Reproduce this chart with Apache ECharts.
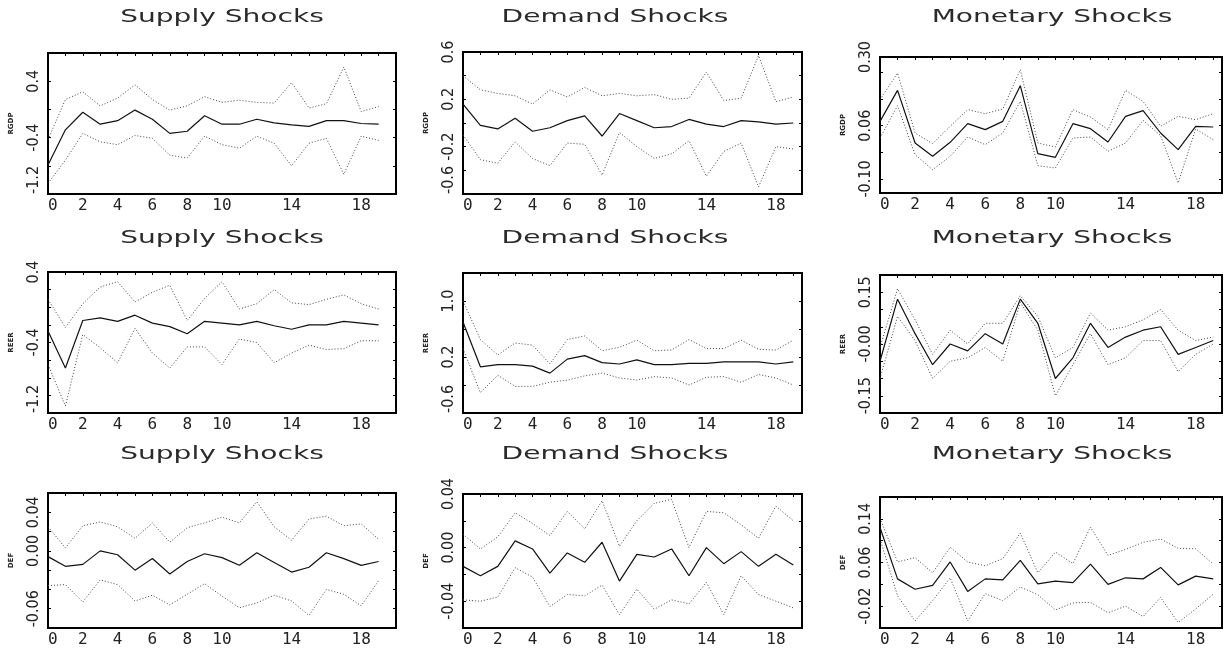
<!DOCTYPE html>
<html><head><meta charset="utf-8">
<script src="https://cdn.jsdelivr.net/npm/echarts@6/dist/echarts.min.js"></script>
<style>html,body{margin:0;padding:0;background:#fff}#c{width:1225px;height:648px}</style>
</head><body><div id="c"></div>
<script>
// ---------------- data ----------------
const horizon = [0,1,2,3,4,5,6,7,8,9,10,11,12,13,14,15,16,17,18,19];
const xLabelValues = [0,2,4,6,8,10,14,18];
const shockTitles = ['Supply Shocks','Demand Shocks','Monetary Shocks'];
const variableNames = ['RGDP','REER','DEF'];

const supplyRgdpMid = [-0.79,-0.29,-0.04,-0.21,-0.16,-0.01,-0.14,-0.34,-0.31,-0.09,-0.21,-0.21,-0.14,-0.19,-0.22,-0.24,-0.16,-0.16,-0.20,-0.21];
const supplyRgdpUp  = [-0.43,0.14,0.25,0.05,0.16,0.35,0.14,-0.01,0.05,0.18,0.10,0.13,0.10,0.09,0.38,0.02,0.08,0.60,-0.03,0.04];
const supplyRgdpLo  = [-1.05,-0.72,-0.34,-0.46,-0.50,-0.37,-0.41,-0.65,-0.69,-0.38,-0.50,-0.55,-0.38,-0.48,-0.80,-0.48,-0.41,-0.92,-0.38,-0.44];

const demandRgdpMid = [0.16,-0.02,-0.05,0.04,-0.07,-0.04,0.02,0.06,-0.11,0.08,0.02,-0.04,-0.03,0.03,-0.01,-0.03,0.02,0.01,-0.01,0.00];
const demandRgdpUp  = [0.40,0.28,0.25,0.23,0.16,0.28,0.22,0.30,0.23,0.25,0.23,0.24,0.20,0.21,0.43,0.19,0.21,0.57,0.18,0.22];
const demandRgdpLo  = [-0.10,-0.31,-0.34,-0.16,-0.30,-0.36,-0.17,-0.18,-0.44,-0.08,-0.20,-0.30,-0.26,-0.15,-0.45,-0.24,-0.17,-0.54,-0.20,-0.22];

const monetaryRgdpMid = [0.073,0.166,0.008,-0.032,0.010,0.066,0.048,0.073,0.180,-0.024,-0.035,0.066,0.051,0.011,0.088,0.105,0.038,-0.012,0.058,0.056];
const monetaryRgdpUp  = [0.138,0.218,0.038,0.006,0.058,0.108,0.096,0.110,0.228,0.008,-0.004,0.108,0.086,0.048,0.166,0.133,0.058,0.088,0.078,0.096];
const monetaryRgdpLo  = [0.023,0.120,-0.027,-0.072,-0.032,0.026,0.003,0.038,0.133,-0.060,-0.067,0.023,0.026,-0.017,0.008,0.076,0.030,-0.112,0.050,0.018];

const supplyReerMid = [-0.27,-0.69,-0.15,-0.12,-0.16,-0.09,-0.18,-0.22,-0.30,-0.16,-0.18,-0.20,-0.16,-0.21,-0.25,-0.20,-0.20,-0.16,-0.18,-0.20];
const supplyReerUp  = [0.09,-0.23,0.04,0.23,0.29,0.06,0.17,0.25,-0.15,0.10,0.29,-0.02,0.04,0.20,0.05,0.03,0.09,0.14,0.04,-0.02];
const supplyReerLo  = [-0.65,-1.12,-0.31,-0.46,-0.63,-0.24,-0.52,-0.69,-0.45,-0.45,-0.65,-0.36,-0.40,-0.63,-0.52,-0.43,-0.48,-0.47,-0.38,-0.38];

const demandReerMid = [0.70,0.06,0.09,0.09,0.07,-0.03,0.17,0.22,0.12,0.10,0.16,0.09,0.09,0.11,0.11,0.13,0.13,0.13,0.10,0.13];
const demandReerUp  = [1.00,0.45,0.23,0.40,0.37,0.10,0.45,0.50,0.29,0.34,0.44,0.29,0.30,0.45,0.32,0.32,0.44,0.31,0.30,0.44];
const demandReerLo  = [0.32,-0.31,-0.06,-0.22,-0.22,-0.16,-0.13,-0.07,-0.03,-0.10,-0.13,-0.08,-0.10,-0.20,-0.09,-0.08,-0.16,-0.05,-0.10,-0.20];

const monetaryReerMid = [-0.05,0.13,0.03,-0.06,0.00,-0.02,0.03,0.00,0.13,0.06,-0.10,-0.04,0.06,-0.01,0.02,0.04,0.05,-0.03,-0.01,0.01];
const monetaryReerUp  = [-0.01,0.16,0.07,-0.03,0.04,0.00,0.06,0.06,0.14,0.08,-0.04,-0.01,0.09,0.04,0.05,0.07,0.10,0.04,0.01,0.02];
const monetaryReerLo  = [-0.10,0.08,0.01,-0.10,-0.05,-0.04,-0.01,-0.05,0.12,0.04,-0.15,-0.06,0.03,-0.06,-0.04,0.01,0.01,-0.08,-0.03,0.00];

const supplyDefMid = [-0.006,-0.016,-0.014,0.000,-0.004,-0.020,-0.008,-0.024,-0.011,-0.003,-0.007,-0.015,-0.002,-0.012,-0.022,-0.017,-0.002,-0.008,-0.015,-0.011];
const supplyDefUp  = [0.025,0.003,0.026,0.030,0.025,0.013,0.029,0.009,0.024,0.029,0.035,0.029,0.051,0.025,0.011,0.033,0.036,0.026,0.028,0.012];
const supplyDefLo  = [-0.036,-0.035,-0.053,-0.030,-0.035,-0.052,-0.046,-0.056,-0.045,-0.034,-0.047,-0.059,-0.054,-0.046,-0.052,-0.067,-0.040,-0.045,-0.057,-0.031];

const demandDefMid = [-0.014,-0.021,-0.014,0.005,-0.001,-0.019,-0.004,-0.011,0.004,-0.025,-0.005,-0.007,-0.001,-0.021,0.000,-0.012,-0.003,-0.014,-0.005,-0.013];
const demandDefUp  = [0.010,-0.001,0.008,0.026,0.018,0.009,0.027,0.014,0.035,0.001,0.020,0.033,0.036,0.000,0.027,0.026,0.017,0.007,0.031,0.020];
const demandDefLo  = [-0.039,-0.040,-0.037,-0.015,-0.022,-0.044,-0.035,-0.036,-0.028,-0.050,-0.031,-0.046,-0.039,-0.042,-0.026,-0.050,-0.021,-0.035,-0.040,-0.045];

const monetaryDefMid = [0.124,0.030,0.011,0.018,0.061,0.007,0.030,0.028,0.064,0.021,0.026,0.023,0.057,0.020,0.032,0.030,0.051,0.019,0.035,0.030];
const monetaryDefUp  = [0.141,0.061,0.069,0.041,0.088,0.061,0.054,0.067,0.114,0.041,0.079,0.058,0.125,0.073,0.084,0.097,0.103,0.086,0.085,0.057];
const monetaryDefLo  = [0.103,-0.001,-0.047,-0.010,0.032,-0.047,0.003,-0.010,0.015,0.001,-0.027,-0.014,-0.013,-0.032,-0.020,-0.039,-0.004,-0.050,-0.025,0.002];

// axis ranges, tick values and tick labels (rows: RGDP, REER, DEF; columns: supply, demand, monetary)
const yRanges = [
  [[-1.2,0.8],[-0.6,0.6],[-0.142,0.266]],
  [[-1.2,0.4],[-0.6,1.4],[-0.2,0.2]],
  [[-0.08,0.06],[-0.06,0.04],[-0.06,0.18]]
];
const yTickValues = [
  [[-0.8,-0.4,0,0.4],[-0.4,-0.2,0,0.2,0.4],[-0.10,-0.02,0.06,0.14,0.22]],
  [[-1.0,-0.8,-0.6,-0.4,-0.2,0,0.2],[-0.2,0.2,0.6,1.0],[-0.15,-0.1,-0.05,0,0.05,0.1,0.15]],
  [[-0.06,-0.04,-0.02,0,0.02,0.04],[-0.04,-0.02,0,0.02],[-0.02,0.02,0.06,0.10,0.14]]
];
const yLabelValues = [
  [[-1.2,-0.4,0.4],[-0.6,-0.2,0.2,0.6],[-0.10,0.06,0.18,0.30]],
  [[-1.2,-0.4,0.4],[-0.6,0.2,1.0],[-0.15,0,0.15]],
  [[-0.06,0,0.04],[-0.04,0,0.04],[-0.02,0.06,0.14]]
];
const yLabelTexts = [
  [['-1.2','-0.4','0.4'],['-0.6','-0.2','0.2','0.6'],['-0.10','0.06','0.18','0.30']],
  [['-1.2','-0.4','0.4'],['-0.6','0.2','1.0'],['-0.15','-0.00','0.15']],
  [['-0.06','0.00','0.04'],['-0.04','0.00','0.04'],['-0.02','0.06','0.14']]
];
const xMaxByColumn = [20, 19.5, 19.5];

const seriesData = [
  [[supplyRgdpMid,supplyRgdpUp,supplyRgdpLo],[demandRgdpMid,demandRgdpUp,demandRgdpLo],[monetaryRgdpMid,monetaryRgdpUp,monetaryRgdpLo]],
  [[supplyReerMid,supplyReerUp,supplyReerLo],[demandReerMid,demandReerUp,demandReerLo],[monetaryReerMid,monetaryReerUp,monetaryReerLo]],
  [[supplyDefMid,supplyDefUp,supplyDefLo],[demandDefMid,demandDefUp,demandDefLo],[monetaryDefMid,monetaryDefUp,monetaryDefLo]]
];

// ---------------- layout ----------------
const colLeft = [48, 463, 880];
const colRight = [396, 802, 1222];
const rowTop = [[53,52,57],[272,273,275],[493,494,497]];
const rowBottom = [[194,194,193],[413,413,413],[632,633,632]];
const titleY = [18, 239, 455];
const titleX = [222, 615, 1052];

const grids = [], xAxes = [], yAxes = [], series = [], graphics = [];
const yLabelFont = "'Liberation Sans Narrow','DejaVu Sans Condensed',sans-serif";
const xLabelFont = "'DejaVu Sans Mono',monospace";
const tickStyle = {color: '#000', width: 1};

for (let r = 0; r < 3; r++) {
  for (let c = 0; c < 3; c++) {
    const i = grids.length;
    const [yMin, yMax] = yRanges[r][c];
    grids.push({
      left: colLeft[c], top: rowTop[r][c],
      width: colRight[c] - colLeft[c], height: rowBottom[r][c] - rowTop[r][c],
      show: true, borderColor: '#000', borderWidth: 2, backgroundColor: 'transparent'
    });
    xAxes.push({
      gridIndex: i, type: 'value', min: 0, max: xMaxByColumn[c], position: 'bottom',
      axisLine: {show: false, onZero: false}, axisTick: {show: false}, splitLine: {show: false},
      axisLabel: {customValues: xLabelValues, formatter: v => String(v), fontFamily: xLabelFont,
        fontSize: 16, color: '#222', margin: 4, alignMinLabel: 'left', showMinLabel: true, showMaxLabel: true}
    });
    xAxes.push({
      gridIndex: i, type: 'value', min: 0, max: xMaxByColumn[c], interval: 1, position: 'top',
      axisLine: {show: false, onZero: false}, splitLine: {show: false}, axisLabel: {show: false},
      axisTick: {show: true, inside: true, length: 3, lineStyle: tickStyle}
    });
    const labVals = yLabelValues[r][c].map(v => Math.max(yMin, Math.min(yMax, v)));
    const labTexts = yLabelTexts[r][c];
    yAxes.push({
      gridIndex: i, type: 'value', min: yMin, max: yMax, position: 'left',
      name: variableNames[r], nameLocation: 'middle', nameGap: 33,
      nameTextStyle: {fontSize: 7, fontFamily: 'DejaVu Sans', fontWeight: 'bold', color: '#222'},
      axisLine: {show: false, onZero: false}, splitLine: {show: false},
      axisTick: {show: true, inside: true, length: 3, customValues: yTickValues[r][c], lineStyle: tickStyle},
      axisLabel: {customValues: labVals, rotate: 90, margin: 6, fontFamily: yLabelFont, fontSize: 16, color: '#222',
        showMinLabel: true, showMaxLabel: true,
        alignMinLabel: Math.abs(labVals[0] - yMin) < 1e-9 ? 'left' : null,
        formatter: v => { const k = labVals.findIndex(x => Math.abs(x - v) < 1e-7); return k >= 0 ? labTexts[k] : ''; }}
    });
    yAxes.push({
      gridIndex: i, type: 'value', min: yMin, max: yMax, position: 'right',
      axisLine: {show: false, onZero: false}, splitLine: {show: false}, axisLabel: {show: false},
      axisTick: {show: true, inside: true, length: 3, customValues: yTickValues[r][c], lineStyle: tickStyle}
    });
    const [mid, up, lo] = seriesData[r][c];
    const mk = (arr, solid) => ({
      type: 'line', xAxisIndex: 2 * i, yAxisIndex: 2 * i, symbol: 'none', silent: true,
      data: horizon.map((h, k) => [h, arr[k]]),
      lineStyle: solid ? {color: '#111', width: 1.2} : {color: '#444', width: 1, type: [1, 2]}
    });
    series.push(mk(mid, true), mk(up, false), mk(lo, false));
    graphics.push({
      type: 'text', x: titleX[c], y: titleY[r], scaleX: 1.65,
      style: {text: shockTitles[c], font: "17px 'DejaVu Sans', sans-serif", fill: '#2a2a2a',
        textAlign: 'center', textVerticalAlign: 'middle'}
    });
  }
}

const chart = echarts.init(document.getElementById('c'), null, {renderer: 'canvas'});
chart.setOption({
  backgroundColor: '#fff', animation: false,
  grid: grids, xAxis: xAxes, yAxis: yAxes, series: series, graphic: graphics
});
</script></body></html>
